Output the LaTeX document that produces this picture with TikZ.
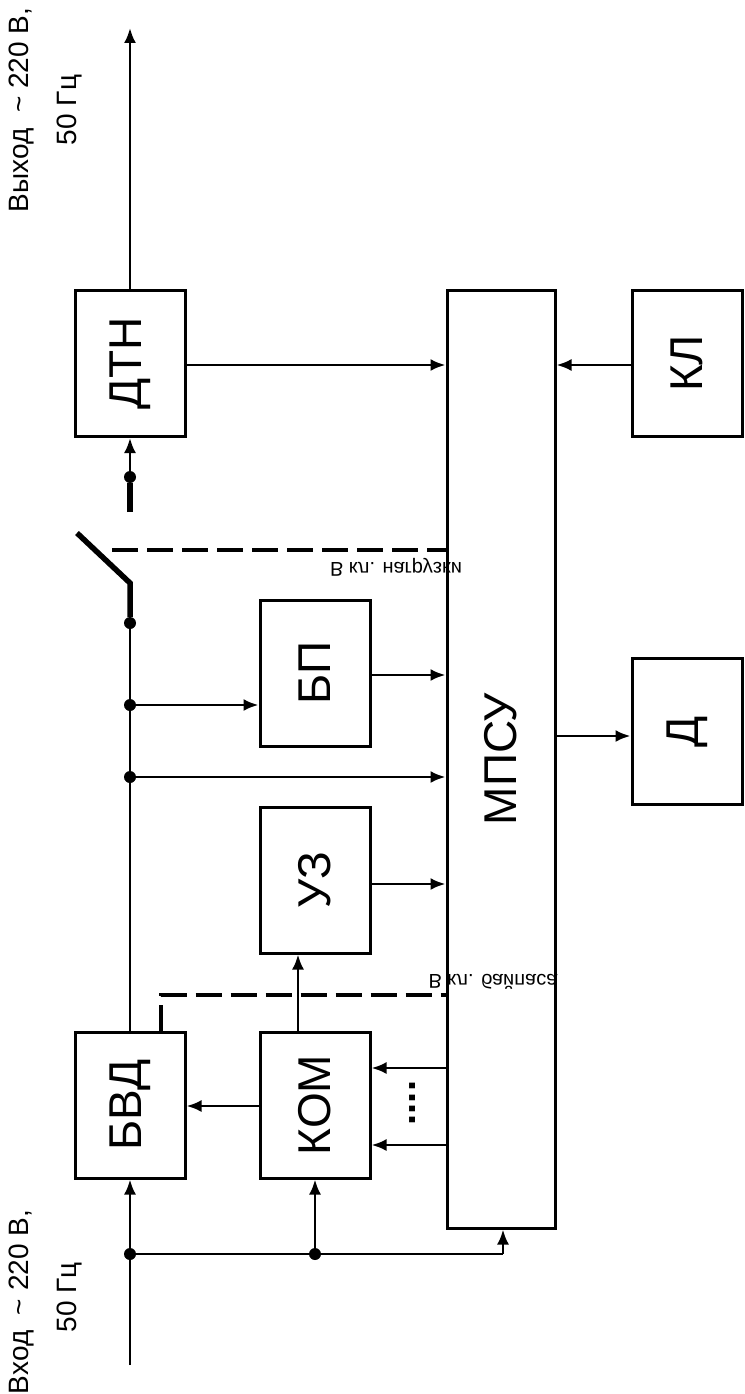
\documentclass[tikz,border=0pt]{standalone}
\usepackage{fontspec}
\setmainfont{Liberation Sans}
\usetikzlibrary{arrows.meta}
\tikzset{
  blk/.style={draw,line width=3pt,inner sep=0pt,minimum width=110pt,minimum height=146pt,
    font=\fontsize{46}{46}\selectfont},
  wire/.style={line width=2.6pt},
  arr/.style={wire,-{Latex[length=15pt,width=12pt]}},
  sw/.style={line width=5.5pt},
  dsh/.style={line width=3.5pt,dash pattern=on 26pt off 9pt},
  jn/.style={circle,fill,inner sep=0pt,minimum size=12pt},
  side/.style={rotate=90,font=\fontsize{28}{28}\selectfont},
  note/.style={yscale=-1,font=\fontsize{20}{20}\selectfont}
}
\begin{document}
\begin{tikzpicture}[x=1pt,y=-1pt]
\useasboundingbox (0,0) rectangle (744,1394);
% blocks
\node[blk] (dtn) at (130,363.5) {\rotatebox{90}{ДТН}};
\node[blk] (kl) at (687,363.5) {\rotatebox{90}{КЛ}};
\node[blk,minimum width=108pt,minimum height=938pt] (mpsu) at (501,759) {\rotatebox{90}{МПСУ}};
\node[blk] (d) at (687,731.5) {\rotatebox{90}{Д}};
\node[blk] (bp) at (315,673) {\rotatebox{90}{БП}};
\node[blk] (uz) at (315,880) {\rotatebox{90}{УЗ}};
\node[blk] (bvd) at (130,1105) {\rotatebox{90}{БВД}};
\node[blk] (kom) at (315,1105) {\rotatebox{90}{КОМ}};
% input
\coordinate (in) at (130,1365);
\node[jn] (j1) at (130,1254) {};
\node[jn] (j2) at (315,1254) {};
\coordinate (c1) at (503,1254);
\draw[wire] (in) -- (j1) -- (j2) -- (c1);
\draw[arr] (j1) -- (bvd.south);
\draw[arr] (j2) -- (kom.south);
\draw[arr] (c1) -- (c1 |- mpsu.south);
% kom
\draw[arr] (kom.west |- 0,1106) -- (bvd.east |- 0,1106);
\draw[arr] (mpsu.west |- 0,1068) -- (kom.east |- 0,1068);
\draw[arr] (mpsu.west |- 0,1145) -- (kom.east |- 0,1145);
\node[rotate=90,font=\fontsize{40}{40}\selectfont\bfseries] (dots) at (413,1103) {....};
\draw[arr] (kom.north -| 298,0) -- (uz.south -| 298,0);
\draw[dsh] (bvd.north -| 161,0) -- (161,995) -- (mpsu.west |- 0,995);
\node[note] (byp) at (493,982) {В кл. байпаса};
% main line
\node[jn] (j3) at (130,777) {};
\node[jn] (j4) at (130,705) {};
\node[jn] (j5) at (130,623) {};
\draw[wire] (bvd.north) -- (j3) -- (j4) -- (j5);
\draw[arr] (j4) -- (bp.west |- j4);
\draw[arr] (j3) -- (mpsu.west |- j3);
\draw[arr] (bp.east |- 0,675) -- (mpsu.west |- 0,675);
\draw[arr] (uz.east |- 0,884) -- (mpsu.west |- 0,884);
% switch
\coordinate (s1) at (130,583);
\coordinate (s2) at (77,533);
\coordinate (s3) at (112,550);
\draw[sw] (j5) -- (s1) -- (s2);
\draw[dsh] (s3) -- (mpsu.west |- s3);
\node[note] (load) at (396,567) {В кл. нагрузки};
% output side
\coordinate (t1) at (130,512);
\node[jn] (j6) at (130,477) {};
\draw[sw] (t1) -- (j6);
\draw[arr] (j6) -- (dtn.south);
\draw[arr] (dtn.east |- 0,365) -- (mpsu.west |- 0,365);
\draw[arr] (kl.west |- 0,365) -- (mpsu.east |- 0,365);
\draw[arr] (mpsu.east |- 0,736) -- (d.west |- 0,736);
\coordinate (out) at (130,28);
\draw[arr] (dtn.north) -- (out);
% labels
\node[side] (outl) at (22,110) {Выход \ \textasciitilde{} 220 В,};
\node[side] (outf) at (70,110) {50 Гц};
\node[side] (inl) at (22,1302) {Вход \ \textasciitilde{} 220 В,};
\node[side] (inf) at (70,1297) {50 Гц};
\end{tikzpicture}
\end{document}
